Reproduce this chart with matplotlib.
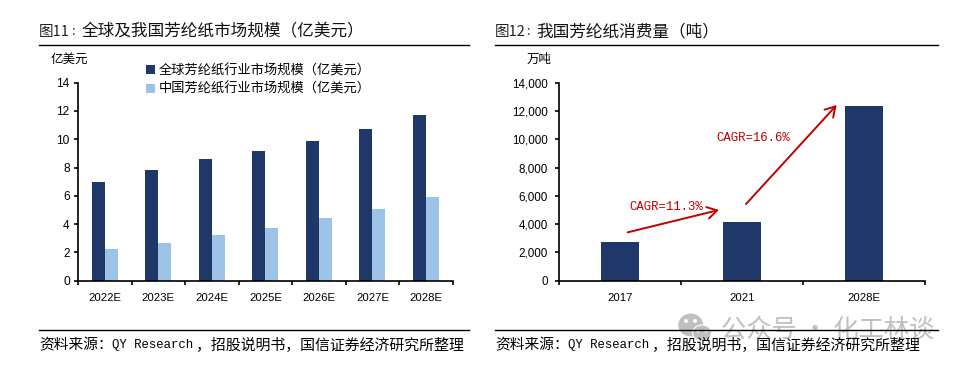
"""Aramid paper market size and consumption, two bar panels with source notes."""

import matplotlib

matplotlib.use("Agg")
import matplotlib.pyplot as plt
from matplotlib.patches import Ellipse
from matplotlib.ticker import FixedLocator, NullFormatter
import numpy as np

W, H = 965, 369
CJK = "Noto Sans CJK SC"
SANS = "Liberation Sans"
MONO = "Liberation Mono"
NAVY = "#1F3869"
SKY = "#9DC3E6"
RED = "#C00000"

years = ["2022E", "2023E", "2024E", "2025E", "2026E", "2027E", "2028E"]
global_size = [7.0, 7.8, 8.6, 9.2, 9.9, 10.75, 11.7]
china_size = [2.25, 2.7, 3.2, 3.7, 4.4, 5.1, 5.9]
global_label = "全球芳纶纸行业市场规模（亿美元）"
china_label = "中国芳纶纸行业市场规模（亿美元）"

cons_years = ["2017", "2021", "2028E"]
consumption = [2750, 4150, 12350]

source_parts = ["资料来源：", "QY Research", "，招股说明书，国信证券经济研究所整理"]


def make_axes(fig, x0, x1, y_top=82.7, y_base=280.7):
    ax = fig.add_axes([x0 / W, 1 - y_base / H, (x1 - x0) / W, (y_base - y_top) / H])
    ax.spines[["top", "right"]].set_visible(False)
    ax.spines[["left", "bottom"]].set_linewidth(1.2)
    ax.tick_params(axis="both", which="major", length=3, width=1.2, direction="out", pad=3)
    ax.patch.set_alpha(0)
    return ax


def set_categories(ax, labels):
    n = len(labels)
    ax.set_xlim(-0.5, n - 0.5)
    ax.xaxis.set_major_locator(FixedLocator(np.arange(n + 1) - 0.5))
    ax.xaxis.set_major_formatter(NullFormatter())
    ax.set_xticks(np.arange(n), labels, minor=True)
    ax.tick_params(axis="x", which="minor", length=0, pad=9)
    for t in ax.get_xticklabels(minor=True):
        t.set_fontfamily(SANS)
        t.set_fontsize(8.2)


def px_text(fig, x, y, s, size, family=CJK, ha="left", **kw):
    fig.text(x / W, 1 - y / H, s, fontsize=size, family=family, ha=ha, va="center", **kw)


def px_rule(fig, x0, x1, y, lw=1.0):
    fig.add_artist(plt.Line2D([x0 / W, x1 / W], [1 - y / H, 1 - y / H], color="black", lw=lw, zorder=5))


def frame(fig, x0, x1, fig_no, title, offset):
    # title, the two rules and the source line are placed in pixels
    px_text(fig, x0, 32, fig_no, 10.5, color="#222222")
    px_text(fig, x0 + offset - 11.5, 32, "：", 8, color="#222222")
    px_text(fig, x0 + offset, 32, title, 12, color="#111111")
    px_rule(fig, x0, x1, 45)
    px_rule(fig, x0, x1, 329.5)
    px_text(fig, x0, 345, source_parts[0], 10.6, zorder=6)
    px_text(fig, x0 + 73.5, 345, source_parts[1], 8.9, family=MONO, zorder=6)
    px_text(fig, x0 + 156.5, 345, source_parts[2], 10.75, zorder=6)


fig = plt.figure(figsize=(W / 100, H / 100), dpi=100)

frame(fig, 39, 469, "图11", "全球及我国芳纶纸市场规模（亿美元）", 42.7)
frame(fig, 495, 938, "图12", "我国芳纶纸消费量（吨）", 41.7)

# left panel
ax = make_axes(fig, 78, 452.7)
x = np.arange(len(years))
bw = 0.243
ax.bar(x - bw / 2, global_size, bw, color=NAVY, label=global_label)
ax.bar(x + bw / 2, china_size, bw, color=SKY, label=china_label)
ax.set_ylim(0, 14)
ax.set_yticks(np.arange(0, 15, 2))
for t in ax.get_yticklabels():
    t.set_fontfamily(SANS)
    t.set_fontsize(8.6)
set_categories(ax, years)
leg = fig.legend(
    loc="upper left", bbox_to_anchor=(145.5 / W, 1 - 64 / H), frameon=False,
    prop={"family": CJK, "size": 9.5}, handlelength=0.72, handleheight=0.72,
    handletextpad=0.3, labelspacing=0.42, borderpad=0, borderaxespad=0,
)
px_text(fig, 69, 59, "亿美元", 9, ha="center")

# right panel
ax2 = make_axes(fig, 559, 925)
ax2.bar(np.arange(len(cons_years)), consumption, 0.31, color=NAVY)
ax2.set_ylim(0, 14000)
ax2.set_yticks(np.arange(0, 14001, 2000), [f"{v:,}" for v in range(0, 14001, 2000)])
ax2.tick_params(axis="y", pad=5)
for t in ax2.get_yticklabels():
    t.set_fontfamily(SANS)
    t.set_fontsize(8.4)
set_categories(ax2, cons_years)
px_text(fig, 539, 59, "万吨", 9, ha="center")

# growth arrows, in data units of the right panel
for start, end in [((0.063, 3420), (0.811, 5000)), ((1.033, 5420), (1.776, 12420))]:
    ax2.annotate(
        "", xy=end, xytext=start,
        arrowprops=dict(arrowstyle="->,head_length=0.7,head_width=0.42", color=RED,
                        lw=1.4, shrinkA=0, shrinkB=0),
    )
ax2.text(0.383, 5230, "CAGR=11.3%", color=RED, family=MONO, fontsize=8.9, ha="center", va="center")
ax2.text(1.096, 10110, "CAGR=16.6%", color=RED, family=MONO, fontsize=8.9, ha="center", va="center")

# watermark sits behind the rule and the source line
wm = "#c0c0c0"
for cx, cy, w, h in [(690.7, 325, 26, 24), (702, 333, 19, 16)]:
    fig.add_artist(Ellipse((cx / W, 1 - cy / H), w / W, h / H, transform=fig.transFigure,
                           facecolor=wm, edgecolor="white", lw=0.8, zorder=1))
for cx, cy, d in [(686, 321, 4), (695, 321, 4), (698, 331, 3), (706, 331, 3)]:
    fig.add_artist(Ellipse((cx / W, 1 - cy / H), d / W, d / H, transform=fig.transFigure,
                           facecolor="white", edgecolor="none", zorder=2))
px_text(fig, 721, 330, "公众号 · 化工林谈", 18.2, color=wm, zorder=1)

fig.savefig("out.png", dpi=100)
